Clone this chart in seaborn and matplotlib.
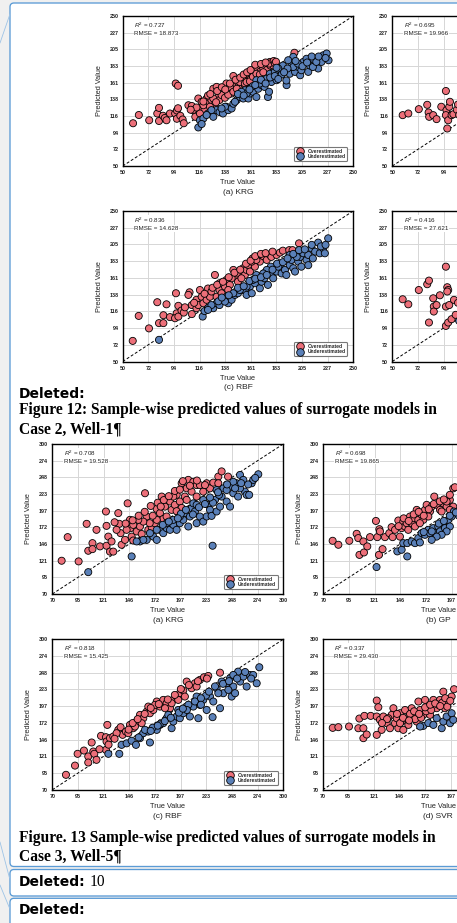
import numpy as np
import pandas as pd
import matplotlib
matplotlib.use('Agg')
import matplotlib.pyplot as plt
import seaborn as sns
from matplotlib.patches import FancyBboxPatch, Rectangle
from matplotlib.lines import Line2D

# ------------------------- data -------------------------
c2_ticklabels = ['50', '72', '94', '116', '138', '161', '183', '205', '227', '250']
c3_ticklabels = ['70', '95', '121', '146', '172', '197', '223', '248', '274', '300']
captions = ['(a) KRG', '(b) GP', '(c) RBF', '(d) SVR']
c2_r2 = [0.727, 0.695, 0.836, 0.416]
c2_rmse = [18.873, 19.966, 14.628, 27.621]
c3_r2 = [0.708, 0.698, 0.818, 0.337]
c3_rmse = [19.528, 19.865, 15.425, 29.430]
legend_labels = ['Overestimated', 'Underestimated']

# (true value, predicted value) pairs, Case 2 Well-1
c2_krg = [(59,107),(64,118),(73,111),(80,120),(81.5,127.5),(81.5,110),(85,117),(86.5,114),(88,111),(91,120),
          (95.5,120),(96,160),(98,157),(97,124),(98,127),(97,113),(100,117),(102,112),(103,107),
          (107,131),(110,130),(111,124.5),(113,115.6),(115.6,140),(117,124.5),(118.5,135.6),(122.8,140),(121,124.5),
          (124,133),(127,138),(128.6,153),(131.5,155.5),(133,142),(130,132),(134,138),(137,149),(140,160),(141.6,153),
          (144.5,146.7),(146,170),(147.4,157.8),(150,162),(151.7,154),(154,164),(156,157.8),(159,171),(160.4,165),
          (162,175.5),(164.7,177.7),(166,182),(169,175.5),(172,180),(175,178),(177.7,188.8),(178,184),(180.6,184),(199,201),
          (117,120),(120,131),(124,144),(125.7,129),(128.6,140),(131,135),(135.8,144.5),(138.7,141),(141.6,145),(143,155.5),
          (146,149),(149,153),(151.7,162),(154.6,169),(156,160),(157.5,162),(160.4,163),(163,169),(166,173),(169,172),
          (172,175),(177,186.6),(181,190),(182,187),(183,189),
          (126,146),(132,150),(136,155),(139,152),(143,160),(148,165),(152,168),(155,172),(158,175),(161,178),
          (165,185),(170,186),(174,188),(120,136),(114,128),(109,125),
          (115.6,101.4),(117,111),(120,113.4),(124,120),(128.6,115.6),(131,124.5),(134,122),(137,120),(140,129),(141.6,124.5),
          (144.5,126.7),(146,133),(149,138),(151.7,142),(154.6,140),(156,151),(159,140),(160.4,146.7),(163,149),(166,142),
          (167.6,153),(170.5,157.8),(173,155.5),(176,142),(177,149),(179,162),(180.6,169),(183.5,164.4),(186,171),(187.9,177.7),
          (189,184),(192.2,157.8),(192,164),(195,173),(196.5,184),(198,195.5),(199.5,175.5),(202.3,182),(204,171),(205,177.7),
          (206.7,188.8),(211,175.5),(212.4,184),(215,193),(219.6,180),(222.5,188.8),(224,197.6),(227,200),(228.6,191),(215,182),
          (209.5,193),(218,188.8),(166,164.4),(169,160),(172,164),(175,166.6),(177.7,173),(182,175.5),(185,180),(183.5,181),
          (163,156.6),(157.5,146.7),(153,149),(147.4,135.6),(138.7,129),(135.8,126.7),(127,124.5),(122.8,118),(118.5,106),
          (198,182),(202,186.6),(193.6,191),
          (150,146),(155,144),(160,152),(165,158),(170,165),(174,160),(178,168),(182,170),(188,172),(193,180),
          (200,190),(206,183),(210,188),(214,196),(220,196),(226,194),(190,175),(185,166)]

c2_gp = [(59,117.8),(63.9,120),(73,125.8),(80.3,131.6),(81.5,121.4),(82,115.6),(85.5,117.8),(88.4,112.5),(92.5,129),
         (96.5,150),(97,124.5),(96.5,117.8),(97.7,100),(99.4,129),(100,135.6),(98.5,111),(101.4,117.8),(103,119),
         (106,125),(107,132),(108,118),(110,128),(112,138),(115,130)]

c2_rbf = [(58.7,77.4),(63.9,110.6),(72.8,94),(80,128.8),(81.5,101),(85.3,101),(85.3,111.5),(88,126),(91,109),(96.2,140.7),
          (98.3,124),(96.8,114),(95.4,107.5),(98.3,109.7),(101,117.7),(103,115),(108,142),(107,138.5),(110,125),(110,113),
          (114,132),(114,120.8),(115.6,125),(117,145),(118.5,136),(120,127.4),(122.8,132),(124,147),(125.7,136),(127,143),
          (130,165),(131.5,136),(134,145),(135.8,140.7),(138.7,149.6),(140,158.4),(143,151.8),(146,171.7),(147.4,162.8),(150,156),
          (151.7,167),(154.6,174),(156,165),(157.5,171.7),(159,178),(160.4,169.5),(162.7,187),(164.7,176),(167.6,189),(169,182.7),
          (172,190),(175,185),(177.7,191.6),(179,189),(183.5,191.6),(186.4,194.7),(189,197.3),(194.5,198),(197.4,198),(203,207),
          (134,154),(141.6,145),(144.5,160.6),(149,167),(153,160.6),(162,182.7),(166,185),
          (128,148),(132,152),(137,156),(142,162),(147,168),(152,172),(157,180),(161,184),(165,190),(170,193),
          (174,194),(180,196),(112,128),(104,122),(121,140),
          (81.5,78.8),(119.4,109.7),(121,117),(124,121),(128.6,120.8),(131.5,127.4),(134,125),(137,132),(140,136),(141.6,127.4),
          (144.5,132),(147.4,138.5),(150,140.7),(153,145),(156,145),(157.5,138.5),(160.4,149.6),(162,140.7),(164.7,154),(167.6,160.6),
          (169,147.3),(170.5,156),(173,160.6),(176,151.8),(179,167),(180.6,160.6),(183.5,169.5),(186.4,178),(187.9,167),(190.8,171.7),
          (192,165),(195,178),(196.5,185),(198,174),(199.5,169.5),(202.3,182.7),(204,189),(206.7,193.8),(209.5,185),(211,191.6),
          (213.9,200.4),(217,196),(219.6,208),(221,193.8),(224,200.4),(228.3,213.7),(225.4,193.8),(215,187),(211,178),(205,176),
          (201,189),(195,191.6),(185,176),(178.5,176),(175,171.7),(172,167),(166,165),(163,158.4),(157.5,149.6),(151.7,145),
          (146,140.7),(138.7,129.6),(133,130),(127,125),(124,118.6),
          (150,148),(155,150),(160,157),(165,160),(170,162),(175,165),(180,172),(184,180),(189,182),(193,187),
          (198,193),(203,198),(208,199),(214,205),(222,203),(226,205),(142,138),(136,135)]

c2_svr = [(59,132.7),(63.9,126),(73,145),(80.3,152.7),(81.8,157.5),(81.8,101.8),(85.5,134),(86,123),(86,116.4),(88.4,125),
          (91.3,138),(96.5,176),(97.7,148.7),(98.5,145),(97.7,143),(96.5,123),(96.5,97.3),(98.5,101.8),(99.4,125),(101.4,106.2),
          (103.5,131.9),(105,112),(107,128),(108,104),(110,120)]

# (true value, predicted value) pairs, Case 3 Well-5
c3_krg = [(79.3,121),(85.3,157.2),(96.2,120),(104.2,177.6),(105.8,136.3),(110,148),(110,138.8),(114,168.4),(117.5,143),(123.4,196.5),
          (124,174.5),(125.8,158),(124,144),(127.4,135),(130.7,135),(129,150.6),(135.7,194),(136.7,177.6),(138,163.3),(139,145.5),
          (145,209),(147.3,183.7),(148,171),(149,158),(150.6,152),(154,165.9),(157.3,173.5),(159,162),(162.3,224.5),(164,188.8),
          (165.6,168.4),(169,172),(172,178.6),(173.9,200.5),(177.2,194),(178.9,219.4),(180.5,185),(182.2,204),(183.8,188.8),(187.2,211.8),
          (188.8,199),(192,206.7),(193.8,222),(197,211.8),(198.8,239.8),(202,219.4),(203.8,232),(205.4,245),(208.7,227),(210.4,242),
          (213.7,237),(217,237),(220.3,227),(223.7,239.8),(227,232),(230.3,240.8),(235.3,250),(238.6,258),(235.3,239.8),(245,250),
          (174,183.7),(167,178.6),(160.6,181),(155.6,183.7),(150.6,176),(144,168.4),(142.4,153),(134,168.4),(203.8,214.3),(198.8,202),
          (190.5,219.4),(213.7,219.4),(222,237),(193.8,197),
          (150,183),(156,190),(162,196),(168,205),(175,210),(181,214),(186,220),(192,228),(197,230),(207,236),
          (214,244),(200,243),(178,204),(170,190),(143,178),(132,180),
          (105.8,103.5),(149,127.6),(157.3,150.6),(164,153),(170.6,158),(174,153),(177.2,168.4),(180.5,163.3),(183.8,171),(187.2,168.4),
          (190.5,176),(193.8,168.4),(197,178.6),(200.4,183.7),(202,194),(205.4,173.5),(207,188.8),(208.7,201.6),(212,196.5),(213.7,178.6),
          (217,188.8),(220.3,181),(223.7,188.8),(225.3,206.7),(227,199),(228.6,189.8),(229.6,144),(232,214.3),(233.6,196.5),(237,204),
          (238.6,219.4),(240.3,232),(243.6,211.8),(247,204),(248.6,234.5),(250.2,224.5),(253.5,239.8),(255,219.4),(256.9,252.6),(260.2,245),
          (261.8,227),(263.5,222),(266,222),(268.5,239.8),(270.1,245),(275.1,253.6),(250.2,242),(256.9,232),(243.6,229.4),(233.6,229.4),
          (220.3,214.3),(210.4,209),(197,188.8),(190.5,183.7),(183.8,178.6),(174,168.4),(167.2,163.3),(160.6,153),(154,150.6),(198,193),
          (213.7,206.7),
          (180,176),(186,181),(195,186),(203,199),(210,192),(216,203),(222,208),(230,210),(236,222),(244,238),
          (252,232),(258,240),(265,238),(272,248),(227,218),(235,226)]

c3_gp = [(79.3,151.6),(85,145.5),(95.9,151.6),(103.2,162.3),(104.8,155.7),(106,130),(110.5,133.7),(109.9,150.6),(113.8,143),(116.5,157.2),
         (122.4,182),(123.8,157.2),(125.8,169.4),(126.4,166),(125.4,130),(129,138.8),(131.4,157.2),(135.7,163.3),(138,172.5),(139,157.2),
         (141.4,168.4),(144.7,182.7),(146.3,158),(148,171),(149.6,181),(151.3,173.5),(153,178.6),(154.6,168.4),(156.3,188.8),(158,178.6),
         (159.6,186.3),(163,199),(164.6,183.7),(167.9,191.4),(169.6,183.7),(171.2,199),(172.9,206.7),(176.2,196.5),(177.9,204),(180.5,219.4),
         (182.8,206.7),(186.2,199),(189.5,209),(192.8,204),(196,214.3),(199.4,232),(199.4,204),(161.3,173.5),(166.2,178.6),(174.6,188.8),
         (187.8,196.5),(192.8,211.8),(196,199),(201,233.7),
         (150,186),(155,182),(160,192),(165,196),(170,190),(175,200),(180,208),(186,212),(190,215),(196,222),(145,174),
         (123,111.3),(143.7,135.3),(148,137.8),(153.6,127.6),(149.6,148),(153.6,148),(158,150.6),(161.3,148),(164.6,155.7),(166.2,149),
         (167.9,163.3),(171.2,160.8),(174.6,168.4),(176.2,163.3),(179.5,171),(181.2,163.3),(184.5,173.5),(186.2,166),(189.5,178.6),(191.1,171),
         (194.5,183.7),(196,173.5),(197.8,188.8),(200,196.5),(192.8,166),(187.8,160.8),(182.8,158),(177.9,153),(205,190),(208,180),
         (170,165),(178,166),(185,178),(190,182),(196,190),(202,195)]

c3_rbf = [(83.6,92.9),(92.6,107),(95.2,125),(101.5,130),(105.8,121),(105.8,111.7),(109.2,142.3),(110.8,128.5),(111.8,125),(114,115.8),
          (118.5,152.4),(123.4,150.4),(124.8,169.2),(124,143.8),(123.4,131),(127.4,148.9),(130.7,151.4),(135.7,161.6),(138,165.7),(140,154),
          (143.3,159),(147.3,169.2),(150.6,164.1),(154,174.3),(157.3,184.5),(160.6,179.4),(164,189.6),(167.2,187),(170.6,192),(174,204.9),
          (177.2,197.2),(180.5,207.4),(183.8,202.3),(187.2,194.7),(190.5,207.4),(193.8,212.5),(197,217.6),(200.4,221.7),(203.8,235.4),(208.7,225.2),
          (212,232.8),(217,238),(221,242),(225.3,244),(237,249),(165.6,197.2),(172.3,199.8),(182.2,194.7),(188.8,202.3),(195.4,207.4),
          (159,171.8),(152.3,166.7),(145.7,156.5),(134,156.5),(202,212.5),(213.7,227.8),
          (146,162),(150,172),(155,178),(162,186),(168,195),(176,201),(185,208),(192,215),(198,224),(206,230),
          (215,236),(224,240),(132,148),(126,139),(117,132),
          (125.8,125),(136.7,125),(139,138.7),(144,141),(149,145),(153.3,138.7),(157.3,148.9),(160.6,156.5),(167.2,142.3),(165.6,159),
          (170.6,164.1),(174,161.6),(177.2,169.2),(180.5,171.8),(183.8,179.4),(188.8,164.1),(190.5,174.3),(193.8,182),(197,179.4),(200.4,187),
          (203.8,194.7),(207,182),(210.4,197.2),(215.4,179.4),(217,199.8),(220.3,207.4),(223.7,192),(227,212.5),(229.6,181),(230.3,204.9),
          (233.6,225.2),(237,194.7),(238.6,235.4),(240.3,217.6),(243.6,232.8),(247,240.5),(248.6,212.5),(250.2,227.8),(252,217.6),(255,250.6),
          (257,235.4),(260.2,243),(263.5,227.8),(266.8,245.5),(270,245.5),(273.5,232.8),(276.1,257.3),(250.2,245.5),(245.3,222.7),(235.3,217.6),
          (223,214),(213.7,212.5),(205.5,200),(195.4,192),(185.5,184.5),(177,170),(170,165),(162.3,161.6),(156,150),
          (168,160),(175,168),(182,175),(188,180),(196,188),(204,192),(212,205),(218,210),(226,220),(232,228),
          (240,232),(246,236),(254,240),(262,250),(268,240),(200,194),(218,200)]

c3_svr = [(80,164.7),(85.6,165.7),(96.2,166.7),(106.5,178.9),(105.5,164.1),(110.5,164.1),(111.5,183),(110.5,148.9),(113.8,154.5),(117.8,183),
          (123.8,206.4),(125.4,196.2),(123.8,182),(127,177),(128.7,161.6),(123.8,154),(130.4,182),(133.7,171.8),(137,164.1),(138.7,184.5),
          (140.4,194.7),(142,171.8),(143.7,179.4),(145.3,164.1),(147,187),(148.7,174.3),(150.3,161.6),(152,192),(153.6,179.4),(155.3,169.2),
          (158.6,194.7),(160.3,184.5),(163.6,174.3),(165.3,204.9),(167,192),(170.2,184.5),(171.9,207.4),(175.2,197.2),(176.9,184.5),(180.2,207.4),
          (183.5,194.7),(186.8,207.4),(190.1,220),(191.8,194.7),(195.1,204.9),(198.4,212.5),(200.8,223.7),(135.3,179.4),(147,171.8),
          (157,186),(162,178),(168,180),(173,190),(178,192),(185,200),(189,203),(194,197),
          (150,180),(156,176),(161,190),(166,186),(172,196),(177,200),(182,202),(187,198),(192,210),(197,206),
          (144,186),(134,178),(129,172),
          (170.2,167.7),(175.2,172),(180.2,169.2),(183.5,179.4),(188.5,164.1),(190.1,174.3),(193.4,182),(196.8,171.8),(198.4,187),(200,176.9),
          (167,166.7)]

# ------------------------- style -------------------------
RED = '#ec6f79'
BLUE = '#5a80b8'
sns.set_theme(style='white')
plt.rcParams['font.family'] = ['Liberation Sans', 'DejaVu Sans']
plt.rcParams['mathtext.fontset'] = 'custom'
plt.rcParams['mathtext.rm'] = 'Liberation Sans'
plt.rcParams['mathtext.it'] = 'Liberation Sans:italic'

W, H = 457, 923
fig = plt.figure(figsize=(W / 100, H / 100), dpi=100)
fig.patch.set_facecolor('#f0f0f0')

# document background (pixel coordinates)
bg = fig.add_axes([0, 0, 1, 1], zorder=0)
bg.set_xlim(0, W)
bg.set_ylim(H, 0)
bg.axis('off')
BOX_EC = '#5b9bd5'
for (y0, hh) in [(3, 863.5), (869.5, 26.5), (898.3, 40)]:
    bg.add_patch(FancyBboxPatch((10, y0), 480, hh, boxstyle='round,pad=0,rounding_size=4',
                                fc='white', ec=BOX_EC, lw=0.95))
for (xs, ys) in [([0, 10], [43, 14]), ([0, 9.5], [842, 878]), ([0, 9.5], [885, 908])]:
    bg.plot(xs, ys, color='#9dc3e6', lw=0.6)

def doc_text(x, y, s, **kw):
    bg.text(x, y, s, va='baseline', ha='left', color='black', **kw)

sans_b = dict(family='DejaVu Sans', weight='bold', size=10)
serif_b = dict(family='Liberation Serif', weight='bold', size=11.2)
doc_text(19, 397.7, 'Deleted:', **sans_b)
doc_text(19, 414.3, 'Figure 12: Sample-wise predicted values of surrogate models in', **serif_b)
doc_text(19, 433.3, 'Case 2, Well-1¶', **serif_b)
doc_text(19, 842.3, 'Figure. 13 Sample-wise predicted values of surrogate models in', **serif_b)
doc_text(19, 860.5, 'Case 3, Well-5¶', **serif_b)
doc_text(19, 885.7, 'Deleted:', **sans_b)
doc_text(90, 885.7, '10', family='Liberation Serif', size=11.2)
doc_text(19, 914.5, 'Deleted:', **sans_b)
bg.add_patch(Rectangle((116.5, 423), 1.8, 14, fc='#9a9a9a', ec='none'))
bg.add_patch(Rectangle((118.5, 850), 1.8, 14, fc='#9a9a9a', ec='none'))


def draw(rect, pairs, lo, hi, ticklabels, r2, rmse, caption):
    l, t, w, h = rect
    ax = fig.add_axes([l / W, 1 - (t + h) / H, w / W, h / H], zorder=2)
    ax.set_facecolor('white')
    df = pd.DataFrame(pairs, columns=['True Value', 'Predicted Value'])
    df['Type'] = np.where(df['Predicted Value'] > df['True Value'], legend_labels[0], legend_labels[1])
    ax.plot([lo, hi], [lo, hi], ls=(0, (3, 2)), color='black', lw=0.7, zorder=2)
    sns.scatterplot(data=df, x='True Value', y='Predicted Value', hue='Type', hue_order=legend_labels,
                    palette={legend_labels[0]: RED, legend_labels[1]: BLUE}, s=26,
                    edgecolor='black', linewidth=0.6, ax=ax, legend=False, zorder=3)
    ticks = np.linspace(lo, hi, len(ticklabels))
    ax.set_xlim(lo, hi)
    ax.set_ylim(lo, hi)
    ax.set_xticks(ticks)
    ax.set_xticklabels(ticklabels)
    ax.set_yticks(ticks)
    ax.set_yticklabels(ticklabels)
    ax.grid(True, color='#d6d6d6', lw=0.7)
    ax.set_axisbelow(True)
    ax.tick_params(length=0, pad=3, labelsize=3.9, colors='#222222')
    for lab in ax.get_xticklabels() + ax.get_yticklabels():
        lab.set_fontweight('bold')
    for sp in ax.spines.values():
        sp.set_color('black')
        sp.set_linewidth(1.0)
    ax.set_xlabel('True Value', fontsize=5.3, va='center', color='#222222')
    ax.xaxis.set_label_coords(0.5, -16.7 / h)
    ax.set_ylabel('Predicted Value', fontsize=5.3, va='center', color='#222222')
    ax.yaxis.set_label_coords(-23.4 / w, 0.5)
    ax.text(0.5, -26.3 / h, caption, transform=ax.transAxes, ha='center', va='center',
            fontsize=6, color='#222222')
    box = dict(fc='white', ec='none', pad=0.4)
    ax.text(0.05, 0.94, f'$R^2$ = {r2:.3f}', transform=ax.transAxes, ha='left', va='center',
            fontsize=4.5, color='#222222', bbox=box, zorder=5)
    ax.text(0.05, 0.884, f'RMSE = {rmse:.3f}', transform=ax.transAxes, ha='left', va='center',
            fontsize=4.5, color='#222222', bbox=box, zorder=5)
    handles = [Line2D([], [], marker='o', ls='', markerfacecolor=c, markeredgecolor='black',
                      markeredgewidth=0.6, markersize=5.5) for c in (RED, BLUE)]
    leg = ax.legend(handles, legend_labels, loc='lower right', bbox_to_anchor=(0.975, 0.035),
                    borderaxespad=0, prop={'size': 3.6, 'weight': 'bold'}, frameon=True, fancybox=True,
                    framealpha=1, edgecolor='#777777', handletextpad=0.8, labelspacing=0.05,
                    borderpad=0.35, handlelength=1.6)
    leg.get_frame().set_linewidth(0.8)
    leg.set_zorder(6)
    return ax


c2_sets = [c2_krg, c2_gp, c2_rbf, c2_svr]
c3_sets = [c3_krg, c3_gp, c3_rbf, c3_svr]
c2_rects = [(122.7, 16, 230.5, 150), (392.3, 16, 230.5, 150),
            (122.7, 211, 230.5, 150.5), (392.3, 211, 230.5, 150.5)]
c3_rects = [(52.3, 444, 231, 150), (323.3, 444, 231, 150),
            (52.3, 639.3, 231, 150.5), (322.7, 639.3, 231, 150.5)]

for i in range(4):
    draw(c2_rects[i], c2_sets[i], 50, 250, c2_ticklabels, c2_r2[i], c2_rmse[i], captions[i])
    draw(c3_rects[i], c3_sets[i], 70, 300, c3_ticklabels, c3_r2[i], c3_rmse[i], captions[i])

fig.savefig('out.png', dpi=100, facecolor=fig.get_facecolor())
